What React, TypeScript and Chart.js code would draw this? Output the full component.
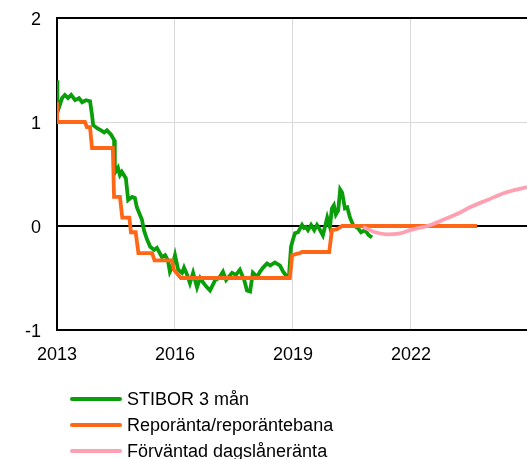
import React, { useEffect, useRef } from "react";
import { Chart, registerables } from "chart.js";

Chart.register(...registerables);

// ---- data (decimal years, percent) ----
const xTickValues = [2013, 2016, 2019, 2022];
const yTickValues = [-1, 0, 1, 2];

const seriesNames = ["STIBOR 3 mån", "Reporänta/reporäntebana", "Förväntad dagslåneränta"];

const stiborYears = [
  2013.0, 2013.01, 2013.05, 2013.13, 2013.2, 2013.28, 2013.36, 2013.46, 2013.56, 2013.64,
  2013.74, 2013.84, 2013.89, 2013.92, 2014.02, 2014.12, 2014.2, 2014.27, 2014.37, 2014.45,
  2014.47, 2014.55, 2014.6, 2014.65, 2014.75, 2014.81, 2014.91, 2014.98, 2015.03, 2015.16,
  2015.21, 2015.29, 2015.37, 2015.47, 2015.54, 2015.67, 2015.75, 2015.82, 2015.87, 2015.92,
  2016.0, 2016.08, 2016.18, 2016.23, 2016.31, 2016.38, 2016.46, 2016.56, 2016.64, 2016.71,
  2016.79, 2016.89, 2017.02, 2017.12, 2017.22, 2017.3, 2017.45, 2017.55, 2017.65, 2017.76,
  2017.83, 2017.91, 2017.98, 2018.09, 2018.16, 2018.24, 2018.34, 2018.42, 2018.54, 2018.67,
  2018.75, 2018.85, 2018.9, 2018.95, 2019.0, 2019.05, 2019.13, 2019.23, 2019.28, 2019.33,
  2019.38, 2019.46, 2019.54, 2019.61, 2019.66, 2019.76, 2019.87, 2019.94, 2019.99, 2020.04,
  2020.09, 2020.15, 2020.2, 2020.25, 2020.32, 2020.38, 2020.45, 2020.53, 2020.65, 2020.73,
  2020.83, 2020.93, 2021.01,
];
const stiborValues = [
  1.4, 1.19, 1.14, 1.23, 1.26, 1.23, 1.26, 1.21, 1.23, 1.19,
  1.21, 1.2, 1.07, 0.97, 0.94, 0.92, 0.9, 0.92, 0.88, 0.83,
  0.51, 0.56, 0.49, 0.52, 0.46, 0.25, 0.28, 0.27, 0.18, 0.06,
  -0.04, -0.13, -0.2, -0.23, -0.21, -0.3, -0.28, -0.33, -0.44, -0.4,
  -0.28, -0.42, -0.45, -0.4, -0.47, -0.55, -0.45, -0.59, -0.5, -0.54,
  -0.58, -0.62, -0.52, -0.5, -0.44, -0.52, -0.45, -0.47, -0.42, -0.52,
  -0.62, -0.63, -0.45, -0.49, -0.44, -0.4, -0.36, -0.38, -0.35, -0.38,
  -0.44, -0.49, -0.47, -0.2, -0.13, -0.07, -0.06, 0.01, -0.02, -0.01,
  -0.04, 0.01, -0.04, 0.01, -0.02, -0.09, 0.08, -0.01, 0.17, 0.2,
  0.11, 0.15, 0.35, 0.32, 0.17, 0.18, 0.08, 0.01, -0.02, -0.06,
  -0.04, -0.09, -0.11,
];

const repoYears = [
  2013.0, 2013.005, 2013.71, 2013.76, 2013.84, 2013.89, 2014.42, 2014.45, 2014.6, 2014.66,
  2014.84, 2014.88, 2015.0, 2015.07, 2015.42, 2015.48, 2015.92, 2015.97, 2016.15, 2018.92,
  2018.98, 2019.18, 2019.23, 2019.92, 2019.99, 2020.12, 2020.25, 2023.68,
];
const repoValues = [
  1.19, 1.0, 1.0, 0.95, 0.95, 0.75, 0.75, 0.28, 0.28, 0.08,
  0.08, -0.06, -0.06, -0.26, -0.26, -0.33, -0.33, -0.42, -0.5, -0.5,
  -0.28, -0.26, -0.25, -0.25, -0.04, -0.03, 0.0, 0.0,
];

const expectedYears = [
  2020.78, 2021.09, 2021.39, 2021.72, 2021.98, 2022.18, 2022.41, 2022.82, 2023.25, 2023.5,
  2023.94, 2024.39, 2024.95,
];
const expectedValues = [
  -0.01, -0.06, -0.08, -0.07, -0.04, -0.02, 0.0, 0.06, 0.13, 0.18,
  0.25, 0.32, 0.375,
];

// ---- styles ----
const colors = ["#0a9e0a", "#ff6616", "#ffa0b2"];
const FONT = "'Liberation Sans', Arial, sans-serif";

const toPoints = (xs: number[], ys: number[]) => xs.map((x, i) => ({ x, y: ys[i] }));

export default function App() {
  const ref = useRef<HTMLCanvasElement | null>(null);

  useEffect(() => {
    if (!ref.current) return;
    const chart = new Chart(ref.current, {
      type: "line",
      data: {
        datasets: [
          {
            label: seriesNames[0],
            data: toPoints(stiborYears, stiborValues),
            borderColor: colors[0],
            backgroundColor: colors[0],
            borderWidth: 3.8,
            pointRadius: 0,
            tension: 0,
            order: 2,
          },
          {
            label: seriesNames[1],
            data: toPoints(repoYears, repoValues),
            borderColor: colors[1],
            backgroundColor: colors[1],
            borderWidth: 3.8,
            pointRadius: 0,
            tension: 0,
            order: 1,
          },
          {
            label: seriesNames[2],
            data: toPoints(expectedYears, expectedValues),
            borderColor: colors[2],
            backgroundColor: colors[2],
            borderWidth: 3.8,
            pointRadius: 0,
            cubicInterpolationMode: "monotone",
            order: 0,
          },
        ],
      },
      options: {
        animation: false,
        responsive: false,
        maintainAspectRatio: false,
        events: [],
        layout: { padding: { top: 18, right: 0, left: 0, bottom: 99 } },
        plugins: { legend: { display: false }, tooltip: { enabled: false } },
        scales: {
          x: {
            type: "linear",
            min: 2013,
            max: 2024.95,
            afterBuildTicks: (s: any) => {
              s.ticks = xTickValues.map((v) => ({ value: v }));
            },
            afterFit: (s: any) => {
              s.height = 30;
            },
            ticks: {
              padding: 14,
              color: "#000",
              font: { family: FONT, size: 18 },
              maxRotation: 0,
              autoSkip: false,
              callback: (v: any) => String(v),
            },
            grid: {
              drawTicks: false,
              color: (c: any) => (c.tick && c.tick.value === 2013 ? "#000" : "#d9d9d9"),
              lineWidth: 1,
            },
            border: { display: true, color: "#000", width: 2 },
          },
          y: {
            type: "linear",
            min: -1,
            max: 2,
            afterBuildTicks: (s: any) => {
              s.ticks = yTickValues.map((v) => ({ value: v }));
            },
            afterFit: (s: any) => {
              s.width = 57;
              s.paddingTop = 0;
              s.paddingBottom = 0;
            },
            ticks: {
              padding: 16,
              labelOffset: 2,
              color: "#000",
              font: { family: FONT, size: 18 },
              callback: (v: any) => String(v),
            },
            grid: {
              drawTicks: false,
              color: (c: any) => (c.tick && c.tick.value === 1 ? "#d9d9d9" : "#000"),
              lineWidth: (c: any) => (c.tick && c.tick.value === 1 ? 1 : 2),
            },
            border: { display: true, color: "#000", width: 2 },
          },
        },
      },
    });
    return () => chart.destroy();
  }, []);

  const legendRowTop = [399, 425, 451];

  return (
    <div style={{ position: "absolute", left: 0, top: 0, width: 527, height: 459, overflow: "hidden", background: "#fff" }}>
      <canvas ref={ref} width={527} height={459} style={{ position: "absolute", left: 0, top: 0, width: 527, height: 459 }} />
      {seriesNames.map((name, i) => (
        <div key={name} style={{ position: "absolute", left: 70, top: legendRowTop[i] - 13, height: 26, display: "flex", alignItems: "center", fontFamily: FONT, fontSize: 18, color: "#000", whiteSpace: "nowrap" }}>
          <span style={{ display: "inline-block", width: 52, height: 4, background: colors[i], marginRight: 5, borderRadius: 2 }} />
          <span>{name}</span>
        </div>
      ))}
    </div>
  );
}
